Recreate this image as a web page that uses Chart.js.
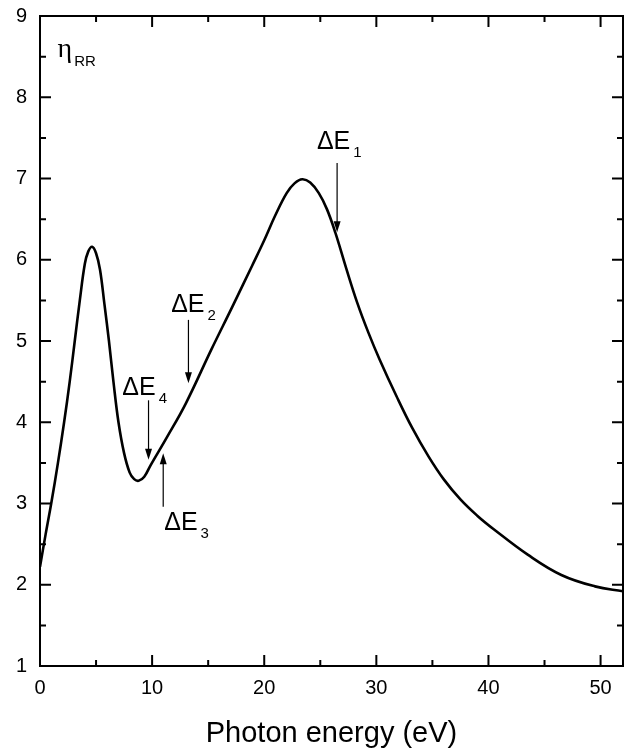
<!DOCTYPE html>
<html>
<head>
<meta charset="utf-8">
<script src="https://cdn.jsdelivr.net/npm/chart.js@4"></script>
<style>
  body { margin: 0; background: #fff; }
  canvas { display: block; }
</style>
</head>
<body>
<canvas id="chart" width="631" height="753"></canvas>
<script>
// curve
const energy = [0, 0.5, 1.0, 1.6, 2.15, 2.65, 3.1, 3.55, 4.0, 4.3, 4.65, 5.0, 5.35, 5.75, 6.15, 6.55, 7.0, 7.5, 8.0, 8.4, 8.8, 9.3, 9.86, 11.34, 13.0, 15.3, 17.15, 18.93, 20.0, 21.0, 22.0, 22.7, 23.4, 24.1, 24.87, 25.6, 26.35, 27.3, 28.3, 29.3, 30.3, 31.8, 33.2, 34.65, 36, 37.5, 39, 40.5, 43.5, 46.5, 49.5, 52];
const etaRR = [2.22, 2.62, 3.0, 3.5, 4.0, 4.5, 5.0, 5.5, 5.95, 6.1, 6.16, 6.08, 5.88, 5.45, 5.0, 4.5, 4.0, 3.62, 3.38, 3.3, 3.28, 3.33, 3.47, 3.82, 4.23, 4.9, 5.42, 5.93, 6.24, 6.55, 6.82, 6.94, 6.99, 6.95, 6.82, 6.62, 6.33, 5.9, 5.47, 5.1, 4.77, 4.32, 3.93, 3.58, 3.3, 3.05, 2.85, 2.68, 2.37, 2.12, 1.98, 1.92];

const xMajor = [0, 10, 20, 30, 40, 50];
const xMinor = [5, 15, 25, 35, 45];
const yMajor = [1, 2, 3, 4, 5, 6, 7, 8, 9];
const yMinor = [1.5, 2.5, 3.5, 4.5, 5.5, 6.5, 7.5, 8.5];

// arrows: x, start y, tip y
const arrowNames = ["1", "2", "3", "4"];
const arrowX = [26.5, 13.24, 10.99, 9.68];
const arrowFrom = [7.19, 5.26, 2.96, 4.27];
const arrowTo = [6.34, 4.48, 3.62, 3.54];
// label left edge / baseline
const labelX = [24.7, 11.7, 11.08, 7.34];
const labelY = [7.36, 5.36, 2.68, 4.34];

const annotate = {
  id: "annotate",
  afterDraw(chart) {
    const ctx = chart.ctx;
    const xs = chart.scales.x;
    const ys = chart.scales.y;
    const a = chart.chartArea;
    ctx.save();
    ctx.strokeStyle = "#000";
    ctx.fillStyle = "#000";

    // frame
    ctx.lineWidth = 2;
    ctx.strokeRect(a.left, a.top, a.right - a.left, a.bottom - a.top);

    // inward ticks on all sides
    const tickX = (vals, len) => {
      vals.forEach((v) => {
        const px = xs.getPixelForValue(v);
        ctx.beginPath();
        ctx.moveTo(px, a.bottom); ctx.lineTo(px, a.bottom - len);
        ctx.moveTo(px, a.top); ctx.lineTo(px, a.top + len);
        ctx.stroke();
      });
    };
    const tickY = (vals, len) => {
      vals.forEach((v) => {
        const py = ys.getPixelForValue(v);
        ctx.beginPath();
        ctx.moveTo(a.left, py); ctx.lineTo(a.left + len, py);
        ctx.moveTo(a.right, py); ctx.lineTo(a.right - len, py);
        ctx.stroke();
      });
    };
    tickX(xMajor, 11);
    tickX(xMinor, 6);
    tickY(yMajor, 11);
    tickY(yMinor, 6);

    // arrows + labels
    ctx.lineWidth = 1.2;
    arrowNames.forEach((n, i) => {
      const px = xs.getPixelForValue(arrowX[i]);
      const y0 = ys.getPixelForValue(arrowFrom[i]);
      const y1 = ys.getPixelForValue(arrowTo[i]);
      const dir = y1 > y0 ? 1 : -1;
      ctx.beginPath();
      ctx.moveTo(px, y0);
      ctx.lineTo(px, y1 - dir * 8);
      ctx.stroke();
      ctx.beginPath();
      ctx.moveTo(px, y1);
      ctx.lineTo(px - 3.5, y1 - dir * 11);
      ctx.lineTo(px + 3.5, y1 - dir * 11);
      ctx.closePath();
      ctx.fill();

      const lx = xs.getPixelForValue(labelX[i]);
      const ly = ys.getPixelForValue(labelY[i]);
      ctx.font = '25px "Liberation Sans"';
      ctx.textAlign = "left";
      ctx.textBaseline = "alphabetic";
      ctx.fillText("\u0394E", lx, ly);
      const w = ctx.measureText("\u0394E").width;
      ctx.font = '15px "Liberation Sans"';
      ctx.fillText(n, lx + w + 3, ly + 8);
    });

    // eta_RR
    const ex = xs.getPixelForValue(1.56);
    const ey = ys.getPixelForValue(8.5);
    ctx.font = '28px "Liberation Serif"';
    ctx.fillText("\u03b7", ex, ey);
    const ew = ctx.measureText("\u03b7").width;
    ctx.font = '15px "Liberation Sans"';
    ctx.fillText("RR", ex + ew + 2, ey + 9);

    ctx.restore();
  },
};

const tickFont = { family: "Liberation Sans", size: 20 };

new Chart(document.getElementById("chart"), {
  type: "line",
  data: {
    datasets: [
      {
        data: energy.map((x, i) => ({ x: x, y: etaRR[i] })),
        borderColor: "#000",
        borderWidth: 2.6,
        pointRadius: 0,
        tension: 0.4,
        fill: false,
      },
    ],
  },
  options: {
    responsive: false,
    animation: false,
    devicePixelRatio: 1,
    layout: { padding: { top: 16, right: 8, left: 0, bottom: 0 } },
    plugins: { legend: { display: false }, tooltip: { enabled: false } },
    scales: {
      x: {
        type: "linear",
        min: 0,
        max: 52,
        grid: { display: false, drawTicks: false },
        border: { display: false },
        afterBuildTicks: (s) => { s.ticks = xMajor.map((v) => ({ value: v })); },
        afterFit: (s) => {
          s.height = 87;
          s.paddingLeft = 0;
          s.paddingRight = 0;
        },
        ticks: { font: tickFont, color: "#000", padding: 10, maxRotation: 0 },
        title: {
          display: true,
          text: "Photon energy (eV)",
          color: "#000",
          font: { family: "Liberation Sans", size: 29 },
          padding: { top: 0, bottom: 2 },
        },
      },
      y: {
        type: "linear",
        min: 1,
        max: 9,
        grid: { display: false, drawTicks: false },
        border: { display: false },
        afterBuildTicks: (s) => { s.ticks = yMajor.map((v) => ({ value: v })); },
        afterFit: (s) => {
          s.width = 40;
          s.paddingTop = 0;
          s.paddingBottom = 0;
        },
        ticks: { font: tickFont, color: "#000", padding: 13 },
      },
    },
  },
  plugins: [annotate],
});
</script>
</body>
</html>
